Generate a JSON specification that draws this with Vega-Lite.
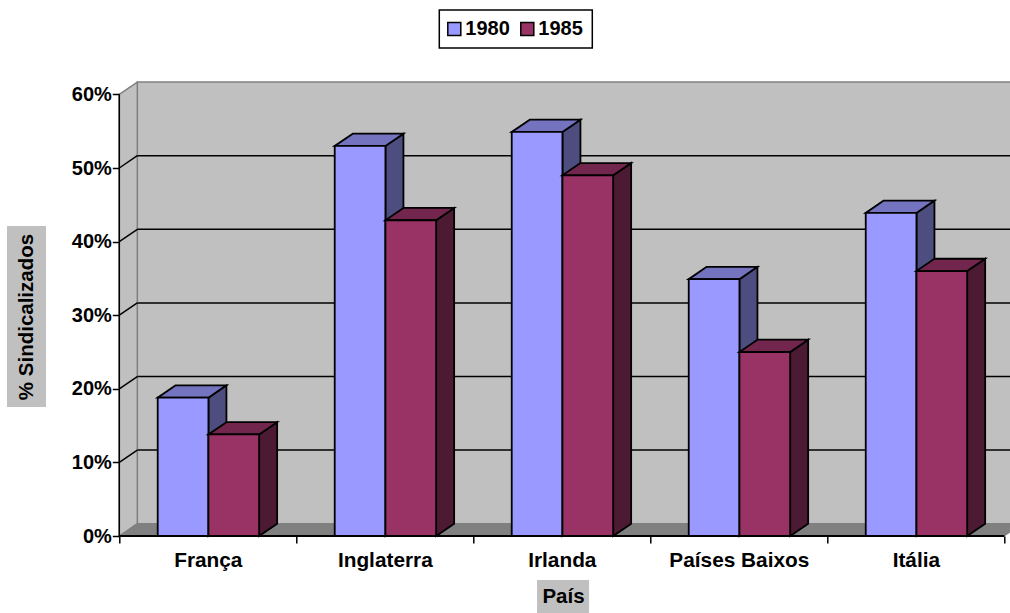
{
"$schema":"https://vega.github.io/schema/vega-lite/v6.json",
"autosize":{"type":"none"},
"padding":{"left":119.3,"top":80,"right":0,"bottom":77},
"width":890.7,"height":456,
"background":"white",
"config":{"view":{"stroke":null},"legend":{"strokeWidth":1.5},"axis":{"labelFont":"Liberation Sans","titleFont":"Liberation Sans","labelFontWeight":"bold","titleFontWeight":"bold","labelFontSize":20,"titleFontSize":20.5,"labelColor":"black","titleColor":"black","tickColor":"black","tickWidth":1.5,"tickSize":7,"grid":false,"domain":false}},
"data":{"values":[
{"pais":"França","ano":"1980","valor":18.8},{"pais":"França","ano":"1985","valor":13.8},
{"pais":"Inglaterra","ano":"1980","valor":53},{"pais":"Inglaterra","ano":"1985","valor":42.9},
{"pais":"Irlanda","ano":"1980","valor":54.9},{"pais":"Irlanda","ano":"1985","valor":49},
{"pais":"Países Baixos","ano":"1980","valor":34.9},{"pais":"Países Baixos","ano":"1985","valor":25},
{"pais":"Itália","ano":"1980","valor":43.9},{"pais":"Itália","ano":"1985","valor":36}]},
"transform":[
{"calculate":"indexof(['França','Inglaterra','Irlanda','Países Baixos','Itália'],datum.pais)+0.217+(datum.ano=='1985'?0.2865:0)","as":"xL"},
{"calculate":"datum.xL+0.2865","as":"xR"},
{"calculate":"[0,1]","as":"t"},{"flatten":["t"]},
{"calculate":"datum.xR+datum.t*0.1017","as":"sx"},
{"calculate":"datum.valor+datum.t*1.67","as":"sy"},
{"calculate":"datum.t*1.67","as":"sy2"},
{"calculate":"datum.xL+datum.t*0.1017","as":"tx"},
{"calculate":"datum.pais+datum.ano","as":"id"}],
"layer":[
{"data":{"values":[{"parte":"fundo"}]},"mark":{"type":"rect","fill":"#C0C0C0","stroke":"#808080","strokeWidth":1.5},
"encoding":{
"x":{"datum":0.1017,"type":"quantitative","scale":{"domain":[0,5.032],"nice":false,"zero":false},"axis":{"title":"País","zindex":1,"values":[0,0.5,1,1.5,2,2.5,3,3.5,4,4.5,5],"labelExpr":"datum.value%1==0?'':['França','Inglaterra','Irlanda','Países Baixos','Itália'][floor(datum.value)]","tickOpacity":{"condition":{"test":"datum.value%1==0","value":1},"value":0},"labelFontSize":20.8,"labelPadding":7,"titleX":443.7,"titleY":60,"titleAlign":"center","titleBaseline":"middle"}},
"x2":{"datum":5.1017},
"y":{"datum":1.67,"type":"quantitative","scale":{"domain":[0,61.957],"nice":false,"zero":false},"axis":{"title":"% Sindicalizados","zindex":1,"values":[0,10,20,30,40,50,60],"labelExpr":"datum.value+'%'","labelPadding":1,"titleX":-92.8,"titleY":236.5,"titleAlign":"center","titleBaseline":"middle"}},
"y2":{"datum":61.67}}},
{"data":{"values":[{"t":0},{"t":1}]},"transform":[{"calculate":"datum.t*0.1017","as":"x"},{"calculate":"60+datum.t*1.67","as":"y1"},{"calculate":"datum.t*1.67","as":"y0"}],
"mark":{"type":"area","orient":"vertical","fill":"#C0C0C0","stroke":"#808080","strokeWidth":1.5},
"encoding":{"x":{"field":"x","type":"quantitative","scale":{"domain":[0,5.032],"nice":false,"zero":false}},"y":{"field":"y1","type":"quantitative","scale":{"domain":[0,61.957],"nice":false,"zero":false}},"y2":{"field":"y0"}}},
{"data":{"values":[{"t":0},{"t":1}]},"transform":[{"calculate":"datum.t*0.1017","as":"x0"},{"calculate":"5+datum.t*0.1017","as":"x1"},{"calculate":"datum.t*1.67","as":"y"}],
"mark":{"type":"area","orient":"horizontal","fill":"#808080","stroke":"#808080","strokeWidth":1},
"encoding":{"y":{"field":"y","type":"quantitative","scale":{"domain":[0,61.957],"nice":false,"zero":false}},"x":{"field":"x0","type":"quantitative","scale":{"domain":[0,5.032],"nice":false,"zero":false}},"x2":{"field":"x1"}}},
{"data":{"values":[{"v":10},{"v":20},{"v":30},{"v":40},{"v":50}]},"transform":[{"calculate":"datum.v+1.67","as":"vb"}],
"mark":{"type":"rule","stroke":"black","strokeWidth":1.5},
"encoding":{"x":{"datum":0.1017,"type":"quantitative","scale":{"domain":[0,5.032],"nice":false,"zero":false}},"x2":{"datum":5.1017},"y":{"field":"vb","type":"quantitative","scale":{"domain":[0,61.957],"nice":false,"zero":false}}}},
{"data":{"values":[{"v":10},{"v":20},{"v":30},{"v":40},{"v":50}]},"transform":[{"calculate":"datum.v+1.67","as":"vb"}],
"mark":{"type":"rule","stroke":"black","strokeWidth":1.5},
"encoding":{"x":{"datum":0,"type":"quantitative","scale":{"domain":[0,5.032],"nice":false,"zero":false}},"x2":{"datum":0.1017},"y":{"field":"v","type":"quantitative","scale":{"domain":[0,61.957],"nice":false,"zero":false}},"y2":{"field":"vb"}}},

{"transform":[{"filter":"datum.ano=='1980'"}],"mark":{"type":"area","orient":"vertical","fill":"#4D4D80","stroke":"black","strokeWidth":1.8},
"encoding":{"detail":{"field":"id"},"x":{"field":"sx","type":"quantitative","scale":{"domain":[0,5.032],"nice":false,"zero":false}},"y":{"field":"sy","type":"quantitative","scale":{"domain":[0,61.957],"nice":false,"zero":false}},"y2":{"field":"sy2"}}},
{"transform":[{"filter":"datum.ano=='1980'"},{"calculate":"datum.xR+datum.t*0.1017","as":"tx2"}],"mark":{"type":"area","orient":"horizontal","fill":"#7373BF","stroke":"black","strokeWidth":1.8},
"encoding":{"detail":{"field":"id"},"y":{"field":"sy","type":"quantitative","scale":{"domain":[0,61.957],"nice":false,"zero":false}},"x":{"field":"tx","type":"quantitative","scale":{"domain":[0,5.032],"nice":false,"zero":false}},"x2":{"field":"tx2"}}},
{"transform":[{"filter":"datum.ano=='1980' && datum.t==0"}],"mark":{"type":"rect","stroke":"black","strokeWidth":1.8},
"encoding":{"x":{"field":"xL","type":"quantitative","scale":{"domain":[0,5.032],"nice":false,"zero":false}},"x2":{"field":"xR"},"y":{"field":"valor","type":"quantitative","scale":{"domain":[0,61.957],"nice":false,"zero":false}},"y2":{"datum":0},
"color":{"field":"ano","type":"nominal","scale":{"domain":["1980","1985"],"range":["#9999FF","#993366"]},"legend":{"title":null,"orient":"none","direction":"horizontal","legendX":320,"legendY":-70,"fillColor":"white","strokeColor":"black","padding":9,"columnPadding":7,"symbolOffset":-4,"symbolType":"square","symbolSize":169,"symbolStrokeColor":"black","symbolStrokeWidth":1.5,"symbolOpacity":1,"labelFont":"Liberation Sans","labelFontWeight":"bold","labelFontSize":20,"labelColor":"black","labelOffset":1}}}},

{"transform":[{"filter":"datum.ano=='1985'"}],"mark":{"type":"area","orient":"vertical","fill":"#4D1A33","stroke":"black","strokeWidth":1.8},
"encoding":{"detail":{"field":"id"},"x":{"field":"sx","type":"quantitative","scale":{"domain":[0,5.032],"nice":false,"zero":false}},"y":{"field":"sy","type":"quantitative","scale":{"domain":[0,61.957],"nice":false,"zero":false}},"y2":{"field":"sy2"}}},
{"transform":[{"filter":"datum.ano=='1985'"},{"calculate":"datum.xR+datum.t*0.1017","as":"tx2"}],"mark":{"type":"area","orient":"horizontal","fill":"#73264D","stroke":"black","strokeWidth":1.8},
"encoding":{"detail":{"field":"id"},"y":{"field":"sy","type":"quantitative","scale":{"domain":[0,61.957],"nice":false,"zero":false}},"x":{"field":"tx","type":"quantitative","scale":{"domain":[0,5.032],"nice":false,"zero":false}},"x2":{"field":"tx2"}}},
{"transform":[{"filter":"datum.ano=='1985' && datum.t==0"}],"mark":{"type":"rect","stroke":"black","strokeWidth":1.8},
"encoding":{"x":{"field":"xL","type":"quantitative","scale":{"domain":[0,5.032],"nice":false,"zero":false}},"x2":{"field":"xR"},"y":{"field":"valor","type":"quantitative","scale":{"domain":[0,61.957],"nice":false,"zero":false}},"y2":{"datum":0},
"color":{"field":"ano","type":"nominal","scale":{"domain":["1980","1985"],"range":["#9999FF","#993366"]},"legend":null}}},

{"data":{"values":[{"linha":"x"}]},"mark":{"type":"rule","stroke":"black","strokeWidth":2},
"encoding":{"x":{"datum":0,"type":"quantitative","scale":{"domain":[0,5.032],"nice":false,"zero":false}},"x2":{"datum":5},"y":{"datum":0,"type":"quantitative","scale":{"domain":[0,61.957],"nice":false,"zero":false}}}},
{"data":{"values":[{"linha":"y"}]},"mark":{"type":"rule","stroke":"black","strokeWidth":1.5},
"encoding":{"x":{"datum":0,"type":"quantitative","scale":{"domain":[0,5.032],"nice":false,"zero":false}},"y":{"datum":0,"type":"quantitative","scale":{"domain":[0,61.957],"nice":false,"zero":false}},"y2":{"datum":60}}},
{"data":{"values":[{"caixa":"País","a":2.36,"b":2.654,"c":-5.98,"d":-10.46},{"caixa":"% Sindicalizados","a":-0.6345,"b":-0.414,"c":42.12,"d":17.53}]},
"mark":{"type":"rect","fill":"#C0C0C0"},
"encoding":{"x":{"field":"a","type":"quantitative","scale":{"domain":[0,5.032],"nice":false,"zero":false}},"x2":{"field":"b"},"y":{"field":"c","type":"quantitative","scale":{"domain":[0,61.957],"nice":false,"zero":false}},"y2":{"field":"d"}}}
]}
